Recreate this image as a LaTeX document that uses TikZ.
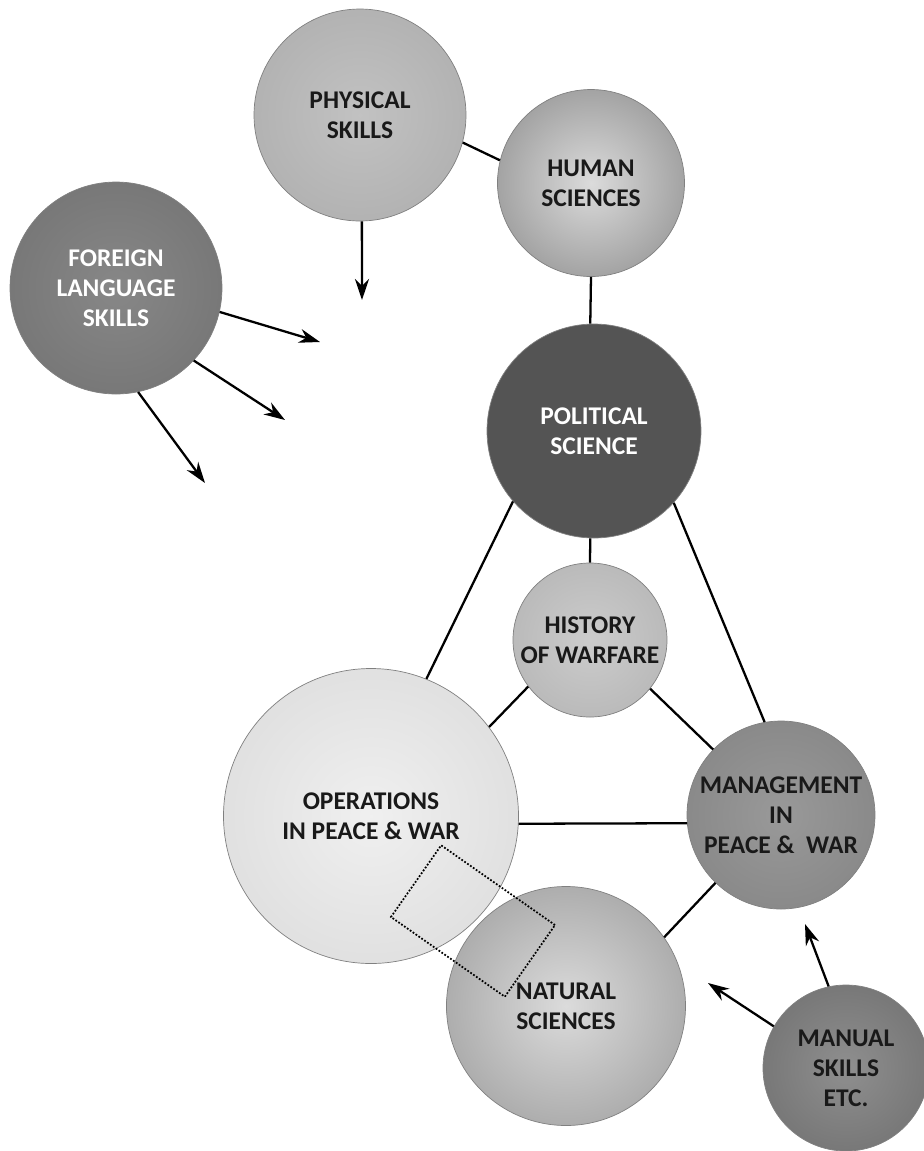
\documentclass[tikz,border=0pt]{standalone}
\usepackage{fontspec}
\setmainfont{Carlito}
\usetikzlibrary{arrows.meta}

\begin{document}
\begin{tikzpicture}[
    circ/.style={circle, draw=black!50, thin, inner sep=0pt, align=center, text=black!90,
      font=\bfseries\fontsize{14.5}{17}\selectfont},
    link/.style={line width=1.3pt},
    feed/.style={line width=1.3pt, -{Stealth[length=12pt,width=8pt]}}]
      \useasboundingbox (0,0) rectangle (18.48,-23.02);
      \node (PS) at (7.2,-2.3)  [circ, minimum size=4.24cm, inner color=black!24, outer color=black!30] {PHYSICAL\\SKILLS};
      \node (HS) at (11.82,-3.66)  [circ, minimum size=3.74cm, inner color=black!14, outer color=black!36] {HUMAN\\SCIENCES};
      \node (FL) at (2.32,-5.76)  [circ, minimum size=4.24cm, inner color=black!47, outer color=black!53, text=white] {FOREIGN\\LANGUAGE\\SKILLS};
      \node (PO) at (11.88,-8.62)  [circ, minimum size=4.28cm, fill=black!67, text=white] {POLITICAL\\SCIENCE};
      \node (HW) at (11.8,-12.8)  [circ, minimum size=3.08cm, inner color=black!20, outer color=black!27] {HISTORY\\OF WARFARE};
      \node (OP) at (7.42,-16.32)  [circ, minimum size=5.9cm, inner color=black!6, outer color=black!12] {OPERATIONS\\IN PEACE \& WAR};
      \node (MG) at (15.62,-16.3)  [circ, minimum size=3.76cm, inner color=black!40, outer color=black!46] {MANAGEMENT\\IN\\PEACE \& \ WAR};
      \node (NS) at (11.32,-20.12)  [circ, minimum size=4.78cm, inner color=black!14, outer color=black!32] {NATURAL\\SCIENCES};
      \node (MS) at (16.92,-21.36)  [circ, minimum size=3.32cm, inner color=black!44, outer color=black!53] {MANUAL\\SKILLS\\ETC.};
      \node (OV) at (9.46,-18.42)  [draw, densely dotted, line width=1pt, rotate=-35, minimum width=2.78cm, minimum height=1.75cm] {};
      \coordinate (p1) at (7.24,-6.0);
      \coordinate (f1) at (6.4,-6.84);
      \coordinate (f2) at (5.7,-8.4);
      \coordinate (f3) at (4.1,-9.66);
      \coordinate (m1) at (16.1,-18.48);
      \coordinate (m2) at (14.16,-19.66);
      \draw[link] (PS.-15) to (HS.166) (HS.south) to (PO.92) (PO.268) to (HW.north);
      \draw[link] (PO.221) to (OP.68) (PO.318) to (MG.100);
      \draw[link] (HW.217) to (OP.37) (HW.321) to (MG.136) (OP.-3) to (MG.185) (NS.35) to (MG.226);
      \draw[feed] (PS.271) to (p1);
      \draw[feed] (FL.-13) to (f1);
      \draw[feed] (FL.-43) to (f2);
      \draw[feed] (FL.-78) to (f3);
      \draw[feed] (MS.102) to (m1);
      \draw[feed] (MS.150) to (m2);
\end{tikzpicture}
\end{document}
